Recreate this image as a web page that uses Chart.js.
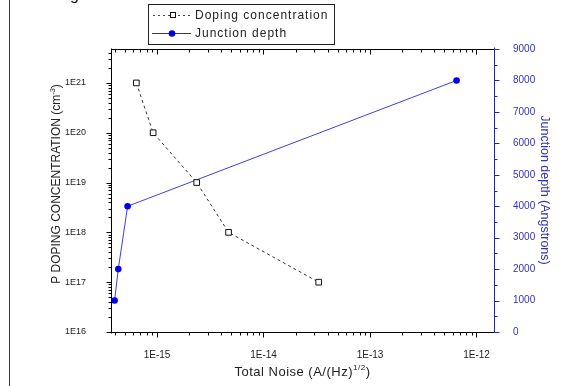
<!DOCTYPE html>
<html>
<head>
<meta charset="utf-8">
<script src="https://cdn.jsdelivr.net/npm/chart.js@4.4.1/dist/chart.umd.min.js"></script>
<style>
html,body{margin:0;padding:0;background:#fff;}
#wrap{width:579px;height:386px;position:relative;}
</style>
</head>
<body>
<div id="wrap"><canvas id="c" width="579" height="386"></canvas></div>
<script>
// ---- data ----
const dopingNoise = [6.4e-16, 9.2e-16, 2.36e-15, 4.7e-15, 3.3e-14];
const dopingConc = [1e21, 1e20, 1e19, 1e18, 1e17];
const junctionNoise = [4.0e-16, 4.33e-16, 5.3e-16, 6.5e-13];
const junctionDepth = [1000, 2000, 4000, 8000];
const xTickValues = [1e-15, 1e-14, 1e-13, 1e-12];
const yTickValues = [1e16, 1e17, 1e18, 1e19, 1e20, 1e21];
const y2TickValues = [0, 1000, 2000, 3000, 4000, 5000, 6000, 7000, 8000, 9000];
const seriesNames = ['Doping concentration', 'Junction depth'];

const FONT = '"Liberation Sans", Arial, sans-serif';
const BLUE_AXIS = '#2626a8';
const BLUE_TEXT = '#3434b4';

function expLabel(v) { return '1E' + Math.round(Math.log10(v)); }

const decorPlugin = {
  id: 'decor',
  afterDraw(chart) {
    const ctx = chart.ctx;
    const ca = chart.chartArea;
    const xs = chart.scales.x, ys = chart.scales.y, y2 = chart.scales.y2;
    const L = Math.round(ca.left) + 0.5, R = Math.round(ca.right) + 0.5;
    const T = Math.round(ca.top) + 0.5, B = Math.round(ca.bottom) + 0.5;
    ctx.save();
    ctx.lineWidth = 1;
    ctx.setLineDash([]);
    // page border line on the far left
    ctx.strokeStyle = '#3a3a3a';
    ctx.beginPath(); ctx.moveTo(9.5, 0); ctx.lineTo(9.5, 386); ctx.stroke();
    // clipped glyph at top
    ctx.fillStyle = '#222';
    ctx.font = '16px ' + FONT;
    ctx.textAlign = 'left'; ctx.textBaseline = 'alphabetic';
    ctx.fillText('g', 70, 0);

    // black frame: bottom, top, left
    ctx.strokeStyle = '#000';
    ctx.beginPath();
    ctx.moveTo(L, B); ctx.lineTo(R, B);
    ctx.moveTo(L, T); ctx.lineTo(R, T);
    ctx.moveTo(L, T - 1); ctx.lineTo(L, B + 1);
    ctx.stroke();

    const logTicks = (scale) => {
      const out = [];
      const lo = Math.floor(Math.log10(scale.min)), hi = Math.ceil(Math.log10(scale.max));
      for (let d = lo; d <= hi; d++) {
        for (let k = 1; k <= 9; k++) {
          const v = k * Math.pow(10, d);
          if (v >= scale.min * 0.9999 && v <= scale.max * 1.0001) out.push({ v, major: k === 1 });
        }
      }
      return out;
    };
    ctx.beginPath();
    logTicks(xs).forEach(t => {
      const px = Math.round(xs.getPixelForValue(t.v)) + 0.5;
      const len = t.major ? 5 : 3;
      ctx.moveTo(px, B); ctx.lineTo(px, B + len);
      ctx.moveTo(px, T); ctx.lineTo(px, T + len);
    });
    logTicks(ys).forEach(t => {
      const py = Math.round(ys.getPixelForValue(t.v)) + 0.5;
      const len = t.major ? 5 : 3;
      ctx.moveTo(L, py); ctx.lineTo(L - len, py);
    });
    ctx.stroke();

    // right (blue) axis
    ctx.strokeStyle = BLUE_AXIS;
    ctx.beginPath();
    ctx.moveTo(R, T - 2); ctx.lineTo(R, B);
    for (let v = y2.min; v <= y2.max; v += 500) {
      const py = Math.round(y2.getPixelForValue(v)) + 0.5;
      const len = (v % 1000 === 0) ? 5 : 3;
      ctx.moveTo(R, py); ctx.lineTo(R + len, py);
    }
    ctx.stroke();

    const drawSup = (parts, size) => {
      let total = 0;
      parts.forEach(p => {
        ctx.font = (p[1] ? size * 0.62 : size) + 'px ' + FONT;
        total += ctx.measureText(p[0]).width;
      });
      let x = -total / 2;
      parts.forEach(p => {
        ctx.font = (p[1] ? size * 0.62 : size) + 'px ' + FONT;
        ctx.fillText(p[0], x, p[1] ? -size * 0.45 : 0);
        x += ctx.measureText(p[0]).width;
      });
    };
    ctx.textAlign = 'left'; ctx.textBaseline = 'alphabetic';
    ctx.fillStyle = '#222';
    ctx.save();
    ctx.letterSpacing = '0.5px';
    ctx.translate((ca.left + ca.right) / 2, 376);
    drawSup([['Total Noise (A/(Hz)', false], ['1/2', true], [')', false]], 13);
    ctx.restore();
    ctx.save();
    ctx.translate(60, 184);
    ctx.rotate(-Math.PI / 2);
    drawSup([['P DOPING CONCENTRATION (cm', false], ['-3', true], [')', false]], 12);
    ctx.restore();
    ctx.save();
    ctx.fillStyle = BLUE_TEXT;
    ctx.translate(541, 190);
    ctx.rotate(Math.PI / 2);
    drawSup([['Junction depth (Angstrons)', false]], 12.5);
    ctx.restore();

    // legend
    ctx.strokeStyle = '#222';
    ctx.lineWidth = 1;
    ctx.strokeRect(148.5, 4.5, 186, 40);
    ctx.strokeStyle = '#444';
    ctx.setLineDash([2, 3]);
    ctx.beginPath(); ctx.moveTo(153, 15.5); ctx.lineTo(192, 15.5); ctx.stroke();
    ctx.setLineDash([]);
    ctx.fillStyle = '#fff'; ctx.strokeStyle = '#111';
    ctx.fillRect(170.5, 12.5, 5, 5); ctx.strokeRect(170.5, 12.5, 5, 5);
    ctx.strokeStyle = '#2a2ad0';
    ctx.beginPath(); ctx.moveTo(152, 33.5); ctx.lineTo(191, 33.5); ctx.stroke();
    ctx.fillStyle = '#0000ee';
    ctx.beginPath(); ctx.arc(172, 33.5, 3.3, 0, Math.PI * 2); ctx.fill();
    ctx.fillStyle = '#222';
    ctx.font = '12px ' + FONT;
    ctx.letterSpacing = '1px';
    ctx.textBaseline = 'middle';
    ctx.fillText(seriesNames[0], 195, 15.5);
    ctx.fillText(seriesNames[1], 195, 33.5);
    ctx.restore();
  }
};

new Chart(document.getElementById('c'), {
  type: 'scatter',
  data: {
    datasets: [
      {
        label: seriesNames[0],
        data: dopingNoise.map((x, i) => ({ x, y: dopingConc[i] })),
        yAxisID: 'y',
        showLine: true,
        borderColor: '#333',
        borderWidth: 1,
        borderDash: [3, 3],
        pointStyle: 'rect',
        pointRadius: 4,
        pointBackgroundColor: '#fff',
        pointBorderColor: '#111',
        pointBorderWidth: 1,
        clip: false
      },
      {
        label: seriesNames[1],
        data: junctionNoise.map((x, i) => ({ x, y: junctionDepth[i] })),
        yAxisID: 'y2',
        showLine: true,
        borderColor: '#4040d4',
        borderWidth: 1,
        pointStyle: 'circle',
        pointRadius: 3.3,
        pointBackgroundColor: '#0000ee',
        pointBorderColor: '#0000ee',
        pointBorderWidth: 0,
        clip: false
      }
    ]
  },
  options: {
    responsive: false,
    animation: false,
    devicePixelRatio: 1,
    layout: { padding: { top: 49, left: 0, right: 0, bottom: 0 } },
    plugins: { legend: { display: false }, tooltip: { enabled: false } },
    scales: {
      x: {
        type: 'logarithmic',
        position: 'bottom',
        min: 3.7e-16,
        max: 1.46e-12,
        grid: { display: false },
        border: { display: false },
        afterBuildTicks: s => { s.ticks = xTickValues.map(v => ({ value: v })); },
        afterFit: s => { s.height = 54; },
        ticks: {
          autoSkip: false, maxRotation: 0, padding: 9,
          color: '#222', font: { family: FONT, size: 10 },
          callback: v => expLabel(v)
        }
      },
      y: {
        type: 'logarithmic',
        position: 'left',
        min: 1e16,
        max: 4.8e21,
        grid: { display: false },
        border: { display: false },
        afterBuildTicks: s => { s.ticks = yTickValues.map(v => ({ value: v })); },
        afterFit: s => { s.width = 111; },
        ticks: {
          autoSkip: false, padding: 17,
          color: '#222', font: { family: FONT, size: 9 },
          callback: v => expLabel(v)
        }
      },
      y2: {
        type: 'linear',
        position: 'right',
        min: 0,
        max: 9000,
        grid: { display: false },
        border: { display: false },
        afterBuildTicks: s => { s.ticks = y2TickValues.map(v => ({ value: v })); },
        afterFit: s => { s.width = 85; },
        ticks: {
          autoSkip: false, padding: 11,
          color: BLUE_TEXT, font: { family: FONT, size: 10 },
          callback: v => String(v)
        }
      }
    }
  },
  plugins: [decorPlugin]
});
</script>
</body>
</html>
